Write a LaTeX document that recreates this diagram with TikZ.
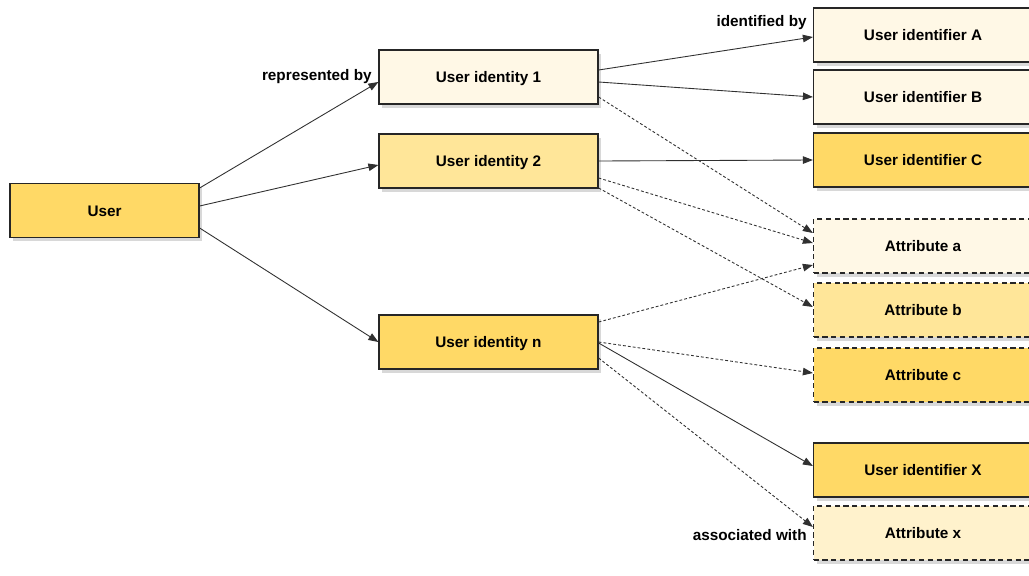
\documentclass[tikz,border=0pt]{standalone}
\usepackage{fontspec}
\setmainfont{Liberation Sans}
\usepackage{tikz}
\usetikzlibrary{calc,arrows.meta,shadows}
\definecolor{idpale}{HTML}{FFF8E6}
\definecolor{idlight}{HTML}{FFF2CC}
\definecolor{idmid}{HTML}{FFE699}
\definecolor{idstrong}{HTML}{FFD966}
\definecolor{edgegray}{HTML}{303030}
\tikzset{
    % Basic box style
    idbox/.style={
        rectangle, draw=black!85, line width=0.7pt,
        minimum width=43.8mm, minimum height=10.8mm, inner sep=0pt,
        text depth=0pt, text height=1.2ex,
        font=\fontsize{8.7}{10}\selectfont\bfseries,
        drop shadow={opacity=0.3,shadow xshift=0.6mm,shadow yshift=-0.7mm}
    },
    % Attribute boxes are dashed
    attrbox/.style={idbox, dash pattern=on 3pt off 2pt},
    % Fill variants
    palebox/.style={fill=idpale},
    lightbox/.style={fill=idlight},
    midbox/.style={fill=idmid},
    strongbox/.style={fill=idstrong},
    % Connectors
    link/.style={-{Triangle[length=2mm,width=1.5mm]},line width=0.5pt,edgegray},
    softlink/.style={link,dash pattern=on 1.6pt off 1.2pt},
    edgelabel/.style={font=\fontsize{8.7}{10}\selectfont\bfseries,inner sep=0pt,anchor=east}
}
\begin{document}
\begin{tikzpicture}[x=0.2mm,y=-0.2mm]
  \useasboundingbox[fill=white] (0,0) rectangle (1029,575);
  % left side
  \node[idbox,strongbox,minimum width=37.8mm] (user) at (104.5,210.5) {User};
  \node[idbox,palebox] (ui1) at (488.5,77) {User identity 1};
  \node[idbox,midbox] (ui2) at (488.5,161) {User identity 2};
  \node[idbox,strongbox] (uin) at (488.5,342) {User identity n};
  % right side
  \node[idbox,palebox] (uida) at (923,35) {User identifier A};
  \node[idbox,palebox] (uidb) at (923,97) {User identifier B};
  \node[idbox,strongbox] (uidc) at (923,160) {User identifier C};
  \node[attrbox,palebox] (attra) at (923,246) {Attribute a};
  \node[attrbox,midbox] (attrb) at (923,310) {Attribute b};
  \node[attrbox,strongbox] (attrc) at (923,375) {Attribute c};
  \node[idbox,strongbox] (uidx) at (923,470) {User identifier X};
  \node[attrbox,lightbox] (attrx) at (923,533) {Attribute x};
  % user -> identities
  \draw[link] ($(user.east)+(0,-22.5)$) -- ($(ui1.west)+(0,5)$);
  \draw[link] ($(user.east)+(0,-4.5)$) -- ($(ui2.west)+(0,4)$);
  \draw[link] ($(user.east)+(0,17.5)$) -- (uin.west);
  % identity 1
  \draw[link] ($(ui1.east)+(0,-7)$) -- ($(uida.west)+(0,2)$);
  \draw[link] ($(ui1.east)+(0,5)$) -- (uidb.west);
  \draw[softlink] ($(ui1.east)+(0,20)$) -- ($(attra.west)+(0,-13)$);
  % identity 2
  \draw[link] (ui2.east) -- (uidc.west);
  \draw[softlink] ($(ui2.east)+(0,17)$) -- ($(attra.west)+(0,-3)$);
  \draw[softlink] ($(ui2.east)+(0,27)$) -- ($(attrb.west)+(0,-3)$);
  % identity n
  \draw[softlink] ($(uin.east)+(0,-20)$) -- ($(attra.west)+(0,19)$);
  \draw[softlink] (uin.east) -- ($(attrc.west)+(0,-2)$);
  \draw[link] ($(uin.east)+(0,1)$) -- ($(uidx.west)+(0,-4)$);
  \draw[softlink] ($(uin.east)+(0,16)$) -- ($(attrx.west)+(0,-6)$);
  % labels
  \node[edgelabel] (lrep) at (372,77) {represented by};
  \node[edgelabel] (lide) at (807,23) {identified by};
  \node[edgelabel] (lass) at (807,535) {associated with};
\end{tikzpicture}
\end{document}
